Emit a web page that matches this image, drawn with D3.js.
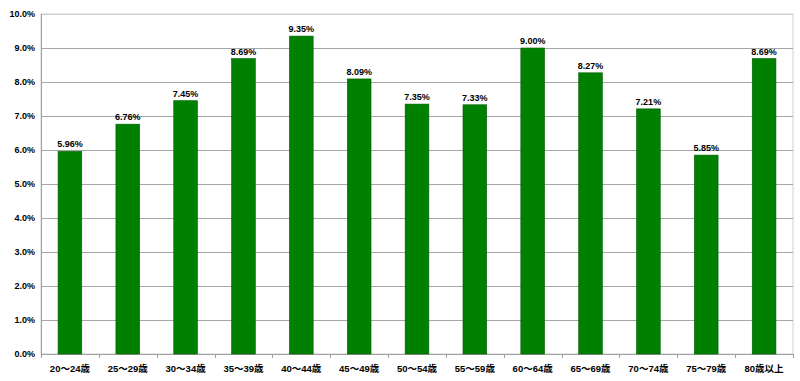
<html>
<head>
<style>
  body { margin: 0; background: #fff; }
  text { font-family: "Liberation Sans", Arial, "Noto Sans CJK JP", sans-serif; font-weight: bold; fill: #000; }
</style>
</head>
<body>
  <svg id="svg" width="800" height="381"></svg>
  <script src="https://d3js.org/d3.v7.min.js"></script>
  <script type="text/javascript">
  let categories = ["20～24歳","25～29歳","30～34歳","35～39歳","40～44歳","45～49歳","50～54歳",
                    "55～59歳","60～64歳","65～69歳","70～74歳","75～79歳","80歳以上"];
  let values = [5.96, 6.76, 7.45, 8.69, 9.35, 8.09, 7.35, 7.33, 9.00, 8.27, 7.21, 5.85, 8.69];
  let yTicks = [0,1,2,3,4,5,6,7,8,9,10];

  let m = {l: 41, r: 793, t: 14, b: 354};
  let svg = d3.select("#svg");

  let x = d3.scaleBand().domain(categories).range([m.l, m.r]).paddingInner(0.59).paddingOuter(0.295);
  let y = d3.scaleLinear().domain([0, 10]).range([m.b, m.t]);

  // plot frame
  svg.append("rect")
    .attr("x", m.l).attr("y", m.t).attr("width", m.r - m.l).attr("height", m.b - m.t)
    .attr("fill", "none").attr("stroke", "#d0d0d0");

  // gridlines
  svg.append("g").selectAll("line").data(yTicks.slice(1)).enter().append("line")
    .attr("x1", m.l).attr("x2", m.r)
    .attr("y1", d => y(d) + 0.5).attr("y2", d => y(d) + 0.5)
    .attr("stroke", d => d == 10 ? "#d0d0d0" : "#a6a6a6");

  // y labels
  svg.append("g").selectAll("text").data(yTicks).enter().append("text")
    .attr("x", m.l - 6).attr("y", d => y(d) + 3)
    .attr("text-anchor", "end").style("font-size", "9px")
    .text(d => d.toFixed(1) + "%");

  // axes lines
  svg.append("line").attr("x1", m.l + 0.5).attr("x2", m.l + 0.5).attr("y1", m.t).attr("y2", m.b)
    .attr("stroke", "#a0a0a0");
  svg.append("line").attr("x1", m.l).attr("x2", m.r).attr("y1", m.b + 0.5).attr("y2", m.b + 0.5)
    .attr("stroke", "#a0a0a0");

  // category boundary ticks
  let step = x.step();
  svg.append("g").selectAll("line").data(d3.range(categories.length + 1)).enter().append("line")
    .attr("x1", i => Math.round(m.l + i * step) + 0.5).attr("x2", i => Math.round(m.l + i * step) + 0.5)
    .attr("y1", m.b).attr("y2", m.b + 4)
    .attr("stroke", "#a0a0a0");

  // bars
  svg.append("g").selectAll("rect").data(values).enter().append("rect")
    .attr("x", (d, i) => x(categories[i]))
    .attr("y", d => y(d))
    .attr("width", x.bandwidth())
    .attr("height", d => y(0) - y(d))
    .attr("fill", "#008000")
    .attr("stroke", "#006000").attr("stroke-width", 0.6);

  // value labels
  svg.append("g").selectAll("text").data(values).enter().append("text")
    .attr("x", (d, i) => x(categories[i]) + x.bandwidth() / 2)
    .attr("y", d => y(d) - 4)
    .attr("text-anchor", "middle").style("font-size", "9px")
    .text(d => d.toFixed(2) + "%");

  // category labels
  svg.append("g").selectAll("text").data(categories).enter().append("text")
    .attr("x", d => x(d) + x.bandwidth() / 2)
    .attr("y", 372)
    .attr("text-anchor", "middle").style("font-size", "9.5px")
    .text(d => d);
  </script>
</body>
</html>
